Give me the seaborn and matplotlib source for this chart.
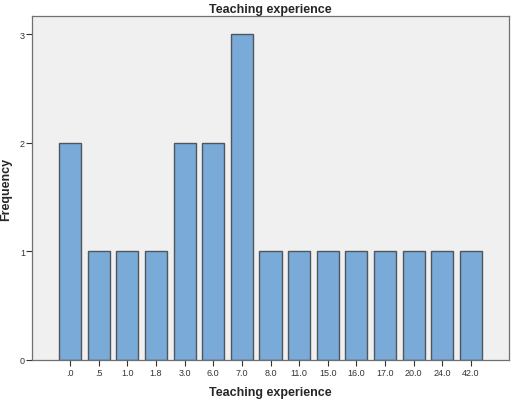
import pandas as pd
import seaborn as sns
import matplotlib.pyplot as plt

# data
categories = ['.0', '.5', '1.0', '1.8', '3.0', '6.0', '7.0', '8.0',
              '11.0', '15.0', '16.0', '17.0', '20.0', '24.0', '42.0']
frequency = [2, 1, 1, 1, 2, 2, 3, 1, 1, 1, 1, 1, 1, 1, 1]

df = pd.DataFrame({'experience': categories, 'frequency': frequency})

sns.set_style('white')
plt.rcParams['font.family'] = ['Liberation Sans', 'DejaVu Sans']

fig = plt.figure(figsize=(5.16, 4.10), dpi=100)
ax = fig.add_axes([32 / 516, 1 - 361 / 410, 477 / 516, 344 / 410])
ax.set_facecolor('#f0f0f0')

sns.barplot(data=df, x='experience', y='frequency', order=categories,
            color='#7aaad8', saturation=1, width=0.77,
            edgecolor='#50565e', linewidth=1.0, ax=ax)

ax.set_xlim(-1.33, len(categories) - 1 + 1.33)
ax.set_ylim(0, 3.17)
ax.set_yticks([0, 1, 2, 3])
ax.set_yticklabels(['0', '1', '2', '3'])

ax.set_title('Teaching experience', fontsize=9, fontweight='bold', pad=3)
ax.set_xlabel('Teaching experience', fontsize=9, fontweight='bold', labelpad=6)
ax.set_ylabel('Frequency', fontsize=9, fontweight='bold', labelpad=6)

ax.tick_params(axis='both', labelsize=6.5, colors='#333333', length=4,
               width=0.8, direction='out', bottom=True, left=True)
ax.tick_params(axis='x', pad=2)
ax.tick_params(axis='y', pad=1)
for s in ax.spines.values():
    s.set_color('#707070')
    s.set_linewidth(0.9)

fig.savefig('out.png', dpi=100)
